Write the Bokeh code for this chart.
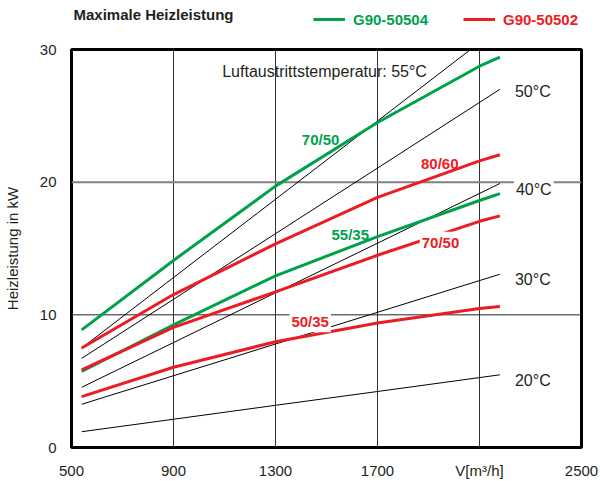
from bokeh.plotting import figure
from bokeh.layouts import column
from bokeh.models import Range1d, FixedTicker, Label, Legend, LegendItem, Span
from bokeh.embed import file_html
from bokeh.resources import INLINE

# ---- data ----
flow_black = [540, 900, 1300, 1700, 2180]
flow_55 = [540, 900, 1300, 1700, 2065]
t55 = [7.5, 12.81, 18.71, 24.61, 30.0]
t50 = [6.72, 11.17, 16.12, 21.06, 27.0]
t40 = [4.54, 7.91, 11.66, 15.40, 19.9]
t30 = [3.26, 5.41, 7.80, 10.19, 13.06]
t20 = [1.19, 2.13, 3.18, 4.22, 5.48]

flow = [540, 900, 1300, 1700, 2100, 2180]
g_70_50 = [8.87, 14.1, 19.7, 24.5, 28.74, 29.43]
g_55_35 = [5.73, 9.25, 12.94, 15.9, 18.62, 19.14]
r_80_60 = [7.5, 11.53, 15.35, 18.85, 21.6, 22.07]
r_70_50 = [5.85, 9.05, 11.73, 14.49, 17.05, 17.46]
r_50_35 = [3.83, 6.05, 7.97, 9.38, 10.47, 10.62]

x_ticks = [500, 900, 1300, 1700, 2100, 2500]
y_ticks = [0, 10, 20, 30]
x_grid = [900, 1300, 1700, 2100]

series_names = ["G90-50504", "G90-50502"]

GREEN = "#00a14b"
RED = "#ed1c24"
TXT = "#231f20"
FONT = "Liberation Sans"
NAN = float("nan")

# ---------------- header (title + legend) ----------------
h = figure(width=600, height=40, x_range=Range1d(67, 581), y_range=Range1d(0, 40),
           output_backend="svg", toolbar_location=None, x_axis_type=None, y_axis_type=None,
           min_border_left=67, min_border_right=19, min_border_top=0, min_border_bottom=0)
h.outline_line_color = None
h.grid.grid_line_color = None

h.add_layout(Label(x=69, y=26, text="Maximale Heizleistung", text_font=FONT, text_font_size="15px",
                   text_font_style="bold", text_color=TXT, text_baseline="alphabetic"))

# renderers used only for the legend swatches
hg = h.line(x=[NAN, NAN], y=[NAN, NAN], line_color=GREEN, line_width=3)
hr = h.line(x=[NAN, NAN], y=[NAN, NAN], line_color=RED, line_width=3)

def legend(renderer, text, color, x):
    lg = Legend(items=[LegendItem(label=text, renderers=[renderer])], location=(x, 11),
                orientation="horizontal", padding=0, margin=0, border_line_color=None,
                background_fill_alpha=0, glyph_width=32, glyph_height=14, label_standoff=8,
                label_height=20, label_text_font=FONT, label_text_font_style="bold",
                label_text_font_size="15px", label_text_color=color)
    h.add_layout(lg, "center")

legend(hg, series_names[0], GREEN, 309 - 67)
legend(hr, series_names[1], RED, 459 - 67)

# ---------------- main chart ----------------
p = figure(width=600, height=441, x_range=Range1d(500, 2500), y_range=Range1d(0, 30),
           output_backend="svg", toolbar_location=None,
           min_border_left=67, min_border_right=19, min_border_top=9, min_border_bottom=27)

p.outline_line_color = "black"
p.outline_line_width = 3

p.xgrid.ticker = FixedTicker(ticks=x_grid)
p.xgrid.grid_line_color = "#333333"
p.xgrid.grid_line_width = 1
p.ygrid.grid_line_color = None

p.add_layout(Span(location=10, dimension="width", line_color="#222222", line_width=1, level="underlay"))
p.add_layout(Span(location=20, dimension="width", line_color="#808080", line_width=2, level="underlay"))

for ax in (p.xaxis, p.yaxis):
    ax.axis_line_color = None
    ax.major_tick_line_color = None
    ax.minor_tick_line_color = None
    ax.major_label_text_font = FONT
    ax.major_label_text_font_size = "15px"
    ax.major_label_text_color = TXT

p.xaxis.ticker = FixedTicker(ticks=x_ticks)
p.xaxis.major_label_overrides = {2100: "V[m³/h]"}
p.xaxis.major_label_standoff = 8
p.yaxis.ticker = FixedTicker(ticks=y_ticks)
p.yaxis.major_label_standoff = 9
p.yaxis.axis_label = "Heizleistung in kW"
p.yaxis.axis_label_text_font = FONT
p.yaxis.axis_label_text_font_size = "15px"
p.yaxis.axis_label_text_font_style = "normal"
p.yaxis.axis_label_text_color = TXT
p.yaxis.axis_label_standoff = 16

# black temperature lines
p.line(flow_55, t55, line_color="black", line_width=1)
p.line(flow_black, t50, line_color="black", line_width=1)
p.line(flow_black, t40, line_color="black", line_width=1)
p.line(flow_black, t30, line_color="black", line_width=1)
p.line(flow_black, t20, line_color="black", line_width=1)

# coloured performance curves
p.line(flow, g_70_50, line_color=GREEN, line_width=3)
p.line(flow, g_55_35, line_color=GREEN, line_width=3)
p.line(flow, r_80_60, line_color=RED, line_width=3)
p.line(flow, r_70_50, line_color=RED, line_width=3)
p.line(flow, r_50_35, line_color=RED, line_width=3)

def lab(x, y, text, color=TXT, bold=False, align="left", size="16px", bg=None):
    l = Label(x=x, y=y, text=text, text_color=color, text_font=FONT, text_font_size=size,
              text_font_style="bold" if bold else "normal", text_align=align,
              text_baseline="alphabetic")
    if bg:
        l.background_fill_color = bg
        l.padding = 2
    p.add_layout(l)

lab(1091, 28.37, "Luftaustrittstemperatur: 55°C")
lab(2239, 26.81, "50°C")
lab(2235, 19.41, "40°C", bg="white")
lab(2239, 12.67, "30°C")
lab(2239, 5.04, "20°C")

lab(1477, 23.19, "70/50", GREEN, True, "center", "15px")
lab(1944, 21.41, "80/60", RED, True, "center", "15px")
lab(1593, 16.07, "55/35", GREEN, True, "center", "15px")
lab(1947, 15.48, "70/50", RED, True, "center", "15px", bg="white")
lab(1436, 9.48, "50/35", RED, True, "center", "15px", bg="white")

layout = column(h, p, spacing=0)
open("out.html", "w").write(file_html(layout, INLINE))
